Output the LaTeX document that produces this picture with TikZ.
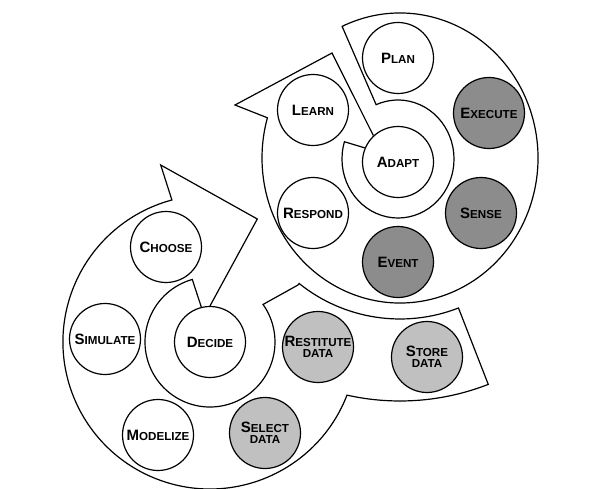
\documentclass[tikz,border=0pt]{standalone}
\usepackage{fontspec}
\setmainfont{Liberation Sans}
\usetikzlibrary{calc}
\definecolor{darkfill}{RGB}{140,140,140}
\definecolor{lightfill}{RGB}{192,192,192}
\newcommand\initcap[1]{{\fontsize{15}{15}\selectfont #1}}
\tikzset{
  circ/.style={circle, draw=black, line width=1.2pt, fill=white, minimum size=71pt, inner sep=0pt,
    align=center, font=\fontsize{11.6}{12.5}\selectfont\bfseries},
  darkcirc/.style={circ, fill=darkfill},
  lightcirc/.style={circ, fill=lightfill},
  band/.style={draw=black, line width=1.2pt, line join=miter}
}
\begin{document}
\begin{tikzpicture}[x=1pt, y=1pt]
\useasboundingbox (0,0) rectangle (616,488);
\coordinate (U) at (400,330);
\coordinate (L) at (210,146);
\coordinate (Ui) at (398,329);

% nodes
\node[circ] (plan) at (398,430) {\initcap{P}LAN};
\node[darkcirc] (execute) at (489,375) {\initcap{E}XECUTE};
\node[darkcirc] (sense) at (481,275) {\initcap{S}ENSE};
\node[darkcirc] (event) at (398,226) {\initcap{E}VENT};
\node[circ] (respond) at (313,275) {\initcap{R}ESPOND};
\node[circ] (learn) at (313,378) {\initcap{L}EARN};
\node[circ] (adapt) at (398,326) {\initcap{A}DAPT};

\node[circ] (choose) at (166,241) {\initcap{C}HOOSE};
\node[circ] (decide) at (210,146) {\initcap{D}ECIDE};
\node[circ] (simulate) at (105,149) {\initcap{S}IMULATE};
\node[circ] (modelize) at (158,53) {\initcap{M}ODELIZE};
\node[lightcirc] (select) at (265,55) {\initcap{S}ELECT\\[-2pt]DATA};
\node[lightcirc] (restitute) at (318,141) {\initcap{R}ESTITUTE\\[-2pt]DATA};
\node[lightcirc] (store) at (427,131) {\initcap{S}TORE\\[-2pt]DATA};

% upper spiral arrow
\coordinate (ubarb) at (235,383);
\coordinate (utip) at (332,435);
\draw[band] (adapt.157) -- ($(Ui)+(163:56 and 59)$)
  arc[start angle=163, end angle=473, x radius=56, y radius=59]
  -- ($(U)+(114.8:138 and 145)$)
  arc[start angle=114.8, end angle=-196.1, x radius=138, y radius=145]
  -- (ubarb) -- (utip) -- (adapt.133);

% lower spiral arrow with data band
\coordinate (notch) at (298,203);
\coordinate (lbarb) at (160.7,323);
\coordinate (ltip) at (257.3,269);
\draw[band] (decide.104) -- ($(L)+(105.8:65)$)
  arc[start angle=105.8, end angle=395.3, radius=65]
  -- (notch)
  -- ($(U)+(-128.8:161)$)
  arc[start angle=-128.8, end angle=-68.7, radius=161]
  -- ($(U)+(-68.7:243)$)
  arc[start angle=-68.7, end angle=-102.6, radius=243]
  arc[start angle=-21.2, end angle=-255, radius=147]
  -- (lbarb) -- (ltip) -- (decide.90);
\end{tikzpicture}
\end{document}
